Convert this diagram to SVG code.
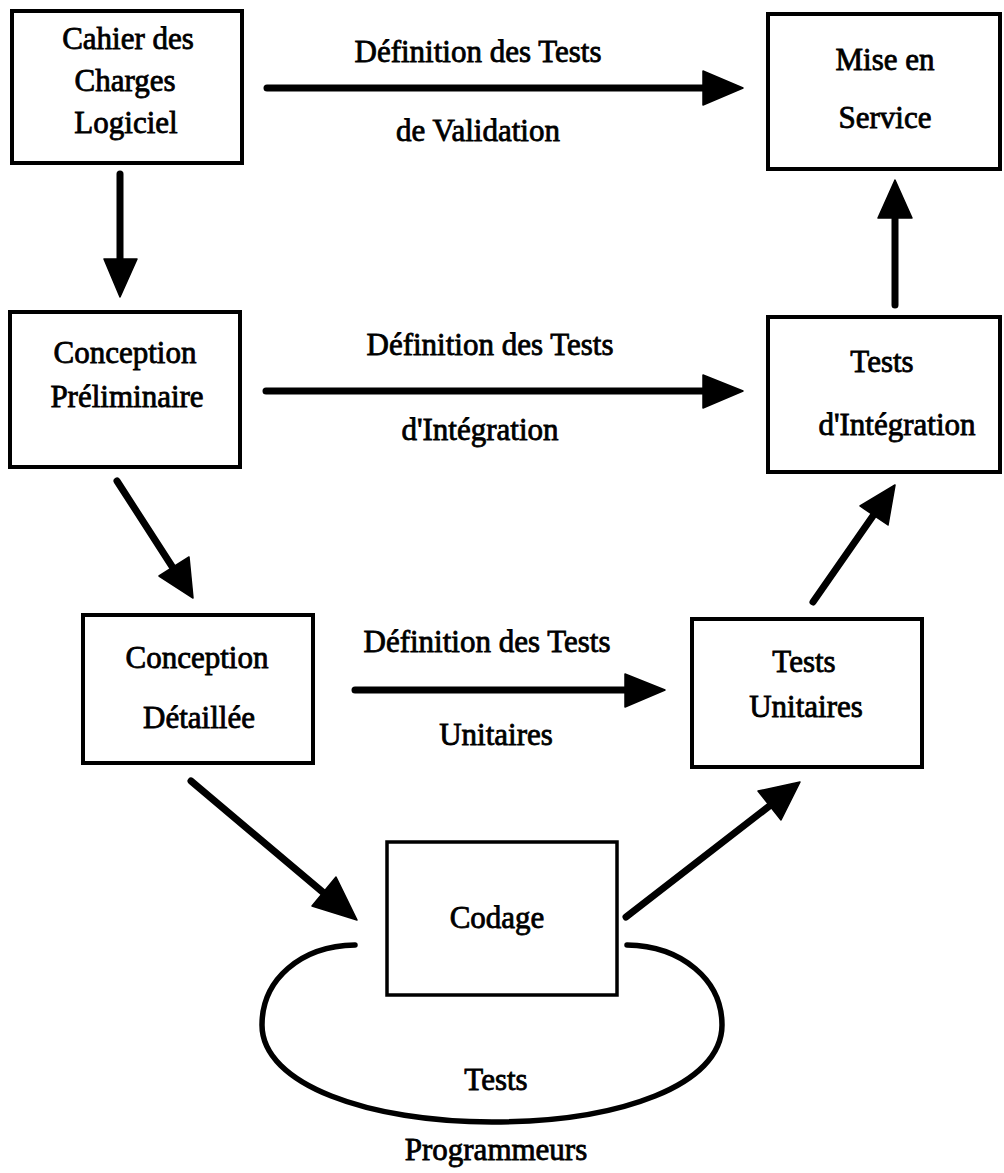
<svg xmlns="http://www.w3.org/2000/svg" width="1004" height="1173" viewBox="0 0 1004 1173">
  <style>
    .box { fill: #fff; stroke: #000; stroke-width: 4; }
    .lbl { font-family: "Liberation Serif", "Times New Roman", serif; font-size: 31px; fill: #000; stroke: #000; stroke-width: 0.8; text-anchor: middle; }
    .shaft { fill: none; stroke: #000; stroke-width: 7; stroke-linecap: round; }
    .head { fill: #000; stroke: #000; stroke-width: 1.5; stroke-linejoin: round; }
    .loop { fill: none; stroke: #000; stroke-width: 5.5; stroke-linecap: round; }
  </style>
  <rect width="1004" height="1173" fill="#fff"/>

  <g id="connectors">
    <!-- Cahier des Charges -> Conception Préliminaire -->
    <line class="shaft" x1="120" y1="174" x2="120" y2="262"/>
    <polygon class="head" points="120,297 104,259 137,259"/>
    <!-- Conception Préliminaire -> Conception Détaillée -->
    <line class="shaft" x1="117" y1="481" x2="175" y2="571"/>
    <polygon class="head" points="193,598 159,576 189,557"/>
    <!-- Conception Détaillée -> Codage -->
    <line class="shaft" x1="191" y1="781" x2="325" y2="894"/>
    <polygon class="head" points="357,920 312,906 336,877"/>
    <!-- Codage -> Tests Unitaires -->
    <line class="shaft" x1="626" y1="917" x2="772" y2="804"/>
    <polygon class="head" points="800,782 781,820 758,791"/>
    <!-- Tests Unitaires -> Tests d'Intégration -->
    <line class="shaft" x1="813" y1="602" x2="875" y2="513"/>
    <polygon class="head" points="895,485 888,525 860,506"/>
    <!-- Tests d'Intégration -> Mise en Service -->
    <line class="shaft" x1="895" y1="305" x2="895" y2="215"/>
    <polygon class="head" points="895,180 878,218 912,218"/>
    <!-- Validation tests definition -->
    <line class="shaft" x1="267" y1="88" x2="708" y2="88"/>
    <polygon class="head" points="743,88 703,71 703,105"/>
    <!-- Integration tests definition -->
    <line class="shaft" x1="266" y1="391" x2="708" y2="391"/>
    <polygon class="head" points="743,391 703,375 703,408"/>
    <!-- Unit tests definition -->
    <line class="shaft" x1="355" y1="690" x2="630" y2="690"/>
    <polygon class="head" points="665,690 625,674 625,707"/>
    <!-- Programmer tests loop around Codage -->
    <path class="loop" d="M355,945 C300,946 262,980 262,1025 C262,1085 370,1122 492,1122 C620,1122 722,1085 722,1025 C722,980 682,946 627,945"/>
  </g>

  <g id="cahier">
    <rect class="box" x="12" y="11" width="230" height="152"/>
    <text class="lbl" x="128" y="49">Cahier des</text>
    <text class="lbl" x="125" y="91">Charges</text>
    <text class="lbl" x="126" y="133">Logiciel</text>
  </g>

  <g id="mise-en-service">
    <rect class="box" x="768" y="14" width="232" height="155"/>
    <text class="lbl" x="885" y="70">Mise en</text>
    <text class="lbl" x="885" y="128">Service</text>
  </g>

  <g id="conception-preliminaire">
    <rect class="box" x="10" y="312" width="230" height="155"/>
    <text class="lbl" x="125" y="363">Conception</text>
    <text class="lbl" x="127" y="407">Préliminaire</text>
  </g>

  <g id="tests-integration">
    <rect class="box" x="768" y="317" width="232" height="155"/>
    <text class="lbl" x="882" y="372">Tests</text>
    <text class="lbl" x="897" y="435">d'Intégration</text>
  </g>

  <g id="conception-detaillee">
    <rect class="box" x="83" y="615" width="230" height="148"/>
    <text class="lbl" x="197" y="668">Conception</text>
    <text class="lbl" x="199" y="728">Détaillée</text>
  </g>

  <g id="tests-unitaires">
    <rect class="box" x="692" y="619" width="230" height="148"/>
    <text class="lbl" x="804" y="672">Tests</text>
    <text class="lbl" x="806" y="717">Unitaires</text>
  </g>

  <g id="codage">
    <rect class="box" x="387" y="842" width="230" height="153" style="stroke-width:3.5"/>
    <text class="lbl" x="497" y="928">Codage</text>
  </g>

  <g id="labels">
    <text class="lbl" x="478" y="62">Définition des Tests</text>
    <text class="lbl" x="478" y="141">de Validation</text>
    <text class="lbl" x="490" y="355">Définition des Tests</text>
    <text class="lbl" x="480" y="440">d'Intégration</text>
    <text class="lbl" x="487" y="652">Définition des Tests</text>
    <text class="lbl" x="496" y="745">Unitaires</text>
    <text class="lbl" x="496" y="1090">Tests</text>
    <text class="lbl" x="496" y="1160">Programmeurs</text>
  </g>
</svg>
